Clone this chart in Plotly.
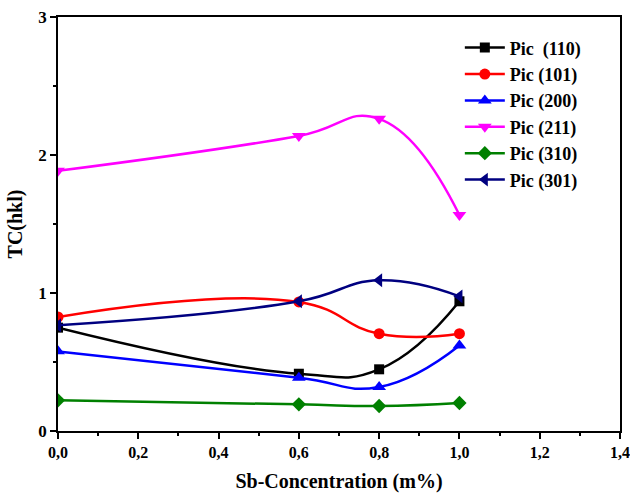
import plotly.graph_objects as go

x_vals = [0.0, 0.6, 0.8, 1.0]
names = ["Pic\u00a0 (110)", "Pic (101)", "Pic (200)", "Pic (211)", "Pic (310)", "Pic (301)"]
pic_110 = [0.749, 0.415, 0.447, 0.940]
pic_101 = [0.826, 0.935, 0.705, 0.705]
pic_200 = [0.577, 0.386, 0.319, 0.620]
pic_211 = [1.885, 2.138, 2.262, 1.565]
pic_310 = [0.222, 0.193, 0.181, 0.203]
pic_301 = [0.766, 0.940, 1.092, 0.976]
x_tickvals = [0.0, 0.2, 0.4, 0.6, 0.8, 1.0, 1.2, 1.4]
x_ticktext = ["0,0", "0,2", "0,4", "0,6", "0,8", "1,0", "1,2", "1,4"]
y_tickvals = [0, 1, 2, 3]

series = [pic_110, pic_101, pic_200, pic_211, pic_310, pic_301]
colors = ["#000000", "#FF0000", "#0000FF", "#FF00FF", "#008000", "#000080"]
symbols = ["square", "circle", "triangle-up", "triangle-down", "diamond", "triangle-left"]
msizes = [10, 11, 12, 12, 11, 12]

fig = go.Figure()
for name, ys, c, s, ms in zip(names, series, colors, symbols, msizes):
    fig.add_trace(go.Scatter(
        x=x_vals, y=ys, name="<b>" + name + "</b>", mode="lines+markers",
        line=dict(color=c, width=2.5, shape="spline", smoothing=1.3),
        marker=dict(symbol=s, size=ms, color=c),
    ))

font_family = "Liberation Serif"
fig.update_layout(
    width=630, height=497,
    margin=dict(l=58, r=10, t=17, b=66, autoexpand=False),
    paper_bgcolor="white", plot_bgcolor="white",
    font=dict(family=font_family, color="black"),
    showlegend=True,
    legend=dict(x=0.715, y=0.97, xanchor="left", yanchor="top",
                font=dict(family=font_family, size=18, color="black"),
                bgcolor="rgba(0,0,0,0)", tracegroupgap=0, itemwidth=40),
    xaxis=dict(range=[0, 1.4], tickvals=x_tickvals,
               ticktext=["<b>" + t + "</b>" for t in x_ticktext], automargin=False,
               ticklabeloverflow="allow",
               showline=True, linecolor="black", linewidth=1.5, mirror=True,
               ticks="outside", ticklen=6, tickwidth=1.5, tickcolor="black",
               minor=dict(dtick=0.1, ticks="outside", ticklen=3, tickwidth=1.5, tickcolor="black"),
               showgrid=False, zeroline=False,
               tickfont=dict(family=font_family, size=16),
               title=dict(text="<b>Sb-Concentration (m%)</b>", standoff=14,
                          font=dict(family=font_family, size=20))),
    yaxis=dict(range=[0, 3], tickvals=y_tickvals,
               ticktext=["<b>%d</b>" % v for v in y_tickvals], automargin=False,
               showline=True, linecolor="black", linewidth=1.5, mirror=True,
               ticks="outside", ticklen=6, tickwidth=1.5, tickcolor="black",
               minor=dict(dtick=0.5, ticks="outside", ticklen=3, tickwidth=1.5, tickcolor="black"),
               showgrid=False, zeroline=False,
               tickfont=dict(family=font_family, size=17),
               title=dict(text="<b>TC(hkl)</b>", standoff=10,
                          font=dict(family=font_family, size=20))),
)
fig.write_html("out.html")
